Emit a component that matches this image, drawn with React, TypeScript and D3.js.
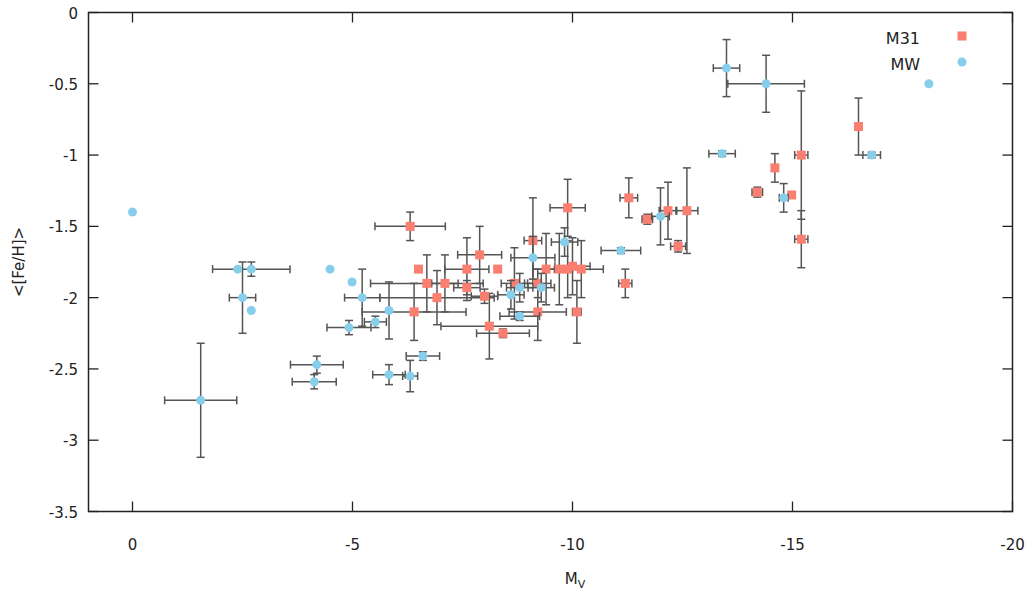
import React, { useRef, useEffect } from 'react';
import * as d3 from 'd3';

// [Mv, <[Fe/H]>, dMv, d[Fe/H]]  (0 = no bar)
const m31Data: number[][] = [
  [-6.31, -1.50, 0.8, 0.1],
  [-6.5, -1.80, 0, 0],
  [-8.3, -1.80, 0, 0],
  [-6.69, -1.90, 1.28, 0.2],
  [-7.1, -1.90, 0.3, 0.2],
  [-6.92, -2.0, 1.3, 0.19],
  [-7.6, -1.80, 0.5, 0.22],
  [-7.89, -1.70, 0.5, 0.2],
  [-7.6, -1.93, 0.3, 0.05],
  [-8.0, -1.99, 0.3, 0.05],
  [-8.11, -2.20, 1.1, 0.23],
  [-8.42, -2.25, 0.6, 0.03],
  [-6.4, -2.10, 1.18, 0.2],
  [-8.68, -1.90, 0.3, 0.25],
  [-9.1, -1.60, 0.2, 0.3],
  [-9.89, -1.37, 0.4, 0.2],
  [-9.21, -1.90, 0.3, 0.1],
  [-9.21, -2.10, 0.65, 0.2],
  [-9.4, -1.80, 0.3, 0.25],
  [-9.7, -1.80, 0.3, 0.25],
  [-9.89, -1.80, 0.3, 0.2],
  [-10.0, -1.78, 0.4, 0.2],
  [-10.2, -1.80, 0.5, 0.2],
  [-10.1, -2.10, 0.1, 0.22],
  [-11.28, -1.30, 0.2, 0.14],
  [-11.2, -1.90, 0.15, 0.1],
  [-11.7, -1.45, 0.12, 0.035],
  [-12.17, -1.39, 0.2, 0.2],
  [-12.6, -1.39, 0.25, 0.3],
  [-12.4, -1.64, 0.17, 0.04],
  [-14.2, -1.26, 0.12, 0.035],
  [-14.6, -1.09, 0.05, 0.1],
  [-14.98, -1.28, 0, 0],
  [-15.2, -1.0, 0.15, 0.45],
  [-15.2, -1.59, 0.15, 0.2],
  [-16.5, -0.80, 0, 0.2],
];

const mwData: number[][] = [
  [0, -1.40, 0, 0],
  [-1.55, -2.72, 0.82, 0.4],
  [-2.39, -1.80, 0, 0],
  [-2.7, -1.80, 0.88, 0.05],
  [-2.5, -2.0, 0.3, 0.25],
  [-2.7, -2.09, 0, 0],
  [-4.49, -1.80, 0, 0],
  [-4.99, -1.89, 0, 0],
  [-5.22, -2.0, 0.4, 0.2],
  [-4.92, -2.21, 0.5, 0.05],
  [-5.52, -2.17, 0.25, 0.04],
  [-5.83, -2.09, 0, 0.2],
  [-4.19, -2.47, 0.6, 0.06],
  [-4.13, -2.59, 0.5, 0.05],
  [-5.83, -2.54, 0.37, 0.07],
  [-6.31, -2.55, 0.17, 0.11],
  [-6.6, -2.41, 0.38, 0.03],
  [-8.8, -1.93, 0.3, 0.1],
  [-8.6, -1.98, 0.3, 0.1],
  [-9.29, -1.93, 0.3, 0.1],
  [-8.8, -2.13, 0.45, 0.03],
  [-9.1, -1.72, 0.5, 0.15],
  [-9.82, -1.61, 0.3, 0.1],
  [-11.1, -1.67, 0.45, 0.02],
  [-12.0, -1.43, 0.2, 0.2],
  [-13.4, -0.99, 0.3, 0.02],
  [-13.5, -0.39, 0.3, 0.2],
  [-14.4, -0.50, 0.87, 0.2],
  [-14.8, -1.30, 0.1, 0.1],
  [-16.8, -1.0, 0.2, 0.02],
  [-18.1, -0.50, 0, 0],
];

const xTicks = [0, -5, -10, -15, -20];
const yTicks = [0, -0.5, -1, -1.5, -2, -2.5, -3, -3.5];

const W = 1033, H = 597;
const FONT = 'DejaVu Sans, Verdana, sans-serif';

const App = () => {
  const svgRef = useRef<SVGSVGElement>(null);

  useEffect(() => {
    const svg = d3.select(svgRef.current);
    svg.selectAll('*').remove();

    const left = 88.5, right = 1012.5, top = 12.5, bottom = 511.5;
    const xScale = d3.scaleLinear().domain([1, -20]).range([left, right]);
    const yScale = d3.scaleLinear().domain([0, -3.5]).range([top, bottom]);
    const tick = 10, cap = 4;

    // ticks (mirrored on all four sides)
    const tg = svg.append('g').attr('stroke', '#222').attr('stroke-width', 1.3);
    xTicks.forEach(t => {
      const x = xScale(t);
      tg.append('line').attr('x1', x).attr('x2', x).attr('y1', bottom).attr('y2', bottom - tick);
      tg.append('line').attr('x1', x).attr('x2', x).attr('y1', top).attr('y2', top + tick);
    });
    yTicks.forEach(t => {
      const y = yScale(t);
      tg.append('line').attr('x1', left).attr('x2', left + tick).attr('y1', y).attr('y2', y);
      tg.append('line').attr('x1', right).attr('x2', right - tick).attr('y1', y).attr('y2', y);
    });

    svg.append('g').selectAll('text').data(xTicks).join('text')
      .attr('x', d => xScale(d)).attr('y', 550)
      .attr('text-anchor', 'middle')
      .attr('font-family', FONT).attr('font-size', 15).attr('fill', '#222')
      .text(d => String(d));

    svg.append('g').selectAll('text').data(yTicks).join('text')
      .attr('x', 78).attr('y', d => yScale(d) + 6)
      .attr('text-anchor', 'end')
      .attr('font-family', FONT).attr('font-size', 15).attr('fill', '#222')
      .text(d => String(d));

    // axis titles
    const xt = svg.append('text')
      .attr('x', 575).attr('y', 584).attr('text-anchor', 'middle')
      .attr('font-family', FONT).attr('font-size', 15).attr('fill', '#222');
    xt.append('tspan').text('M');
    xt.append('tspan').attr('font-size', 11).attr('dy', 4).text('V');

    svg.append('text')
      .attr('transform', `translate(24, ${(top + bottom) / 2}) rotate(-90)`)
      .attr('text-anchor', 'middle')
      .attr('font-family', FONT).attr('font-size', 15).attr('fill', '#222')
      .text('<[Fe/H]>');

    const drawBars = (data: number[][]) => {
      const g = svg.append('g').attr('stroke', '#555').attr('stroke-width', 1.5).attr('fill', 'none');
      data.forEach(([mv, fe, dx, dy]) => {
        const x = xScale(mv), y = yScale(fe);
        if (dx > 0) {
          const x0 = xScale(mv + dx), x1 = xScale(mv - dx);
          g.append('line').attr('x1', x0).attr('x2', x1).attr('y1', y).attr('y2', y);
          g.append('line').attr('x1', x0).attr('x2', x0).attr('y1', y - cap).attr('y2', y + cap);
          g.append('line').attr('x1', x1).attr('x2', x1).attr('y1', y - cap).attr('y2', y + cap);
        }
        if (dy > 0) {
          const y0 = yScale(fe + dy), y1 = yScale(fe - dy);
          g.append('line').attr('x1', x).attr('x2', x).attr('y1', y0).attr('y2', y1);
          g.append('line').attr('x1', x - cap).attr('x2', x + cap).attr('y1', y0).attr('y2', y0);
          g.append('line').attr('x1', x - cap).attr('x2', x + cap).attr('y1', y1).attr('y2', y1);
        }
      });
    };

    const red = '#fa7f70', blue = '#87ceeb';

    drawBars(m31Data);
    svg.append('g').selectAll('rect').data(m31Data).join('rect')
      .attr('x', d => xScale(d[0]) - 4.5).attr('y', d => yScale(d[1]) - 4.5)
      .attr('width', 9).attr('height', 9).attr('fill', red);

    drawBars(mwData);
    svg.append('g').selectAll('circle').data(mwData).join('circle')
      .attr('cx', d => xScale(d[0])).attr('cy', d => yScale(d[1]))
      .attr('r', 4.5).attr('fill', blue);

    // border
    svg.append('rect')
      .attr('x', left).attr('y', top).attr('width', right - left).attr('height', bottom - top)
      .attr('fill', 'none').attr('stroke', '#222').attr('stroke-width', 1.5);

    // legend
    const lg = svg.append('g');
    lg.append('text').attr('x', 920).attr('y', 44).attr('text-anchor', 'end')
      .attr('font-family', FONT).attr('font-size', 16).attr('fill', '#222').text('M31');
    lg.append('rect').attr('x', 957.5).attr('y', 31.5).attr('width', 9).attr('height', 9).attr('fill', red);
    lg.append('text').attr('x', 920).attr('y', 70).attr('text-anchor', 'end')
      .attr('font-family', FONT).attr('font-size', 16).attr('fill', '#222').text('MW');
    lg.append('circle').attr('cx', 962).attr('cy', 62).attr('r', 4.5).attr('fill', blue);
  }, []);

  return (
    <svg ref={svgRef} width={W} height={H}
      style={{ position: 'absolute', left: 0, top: 0, background: '#fff' }} />
  );
};

export default App;
